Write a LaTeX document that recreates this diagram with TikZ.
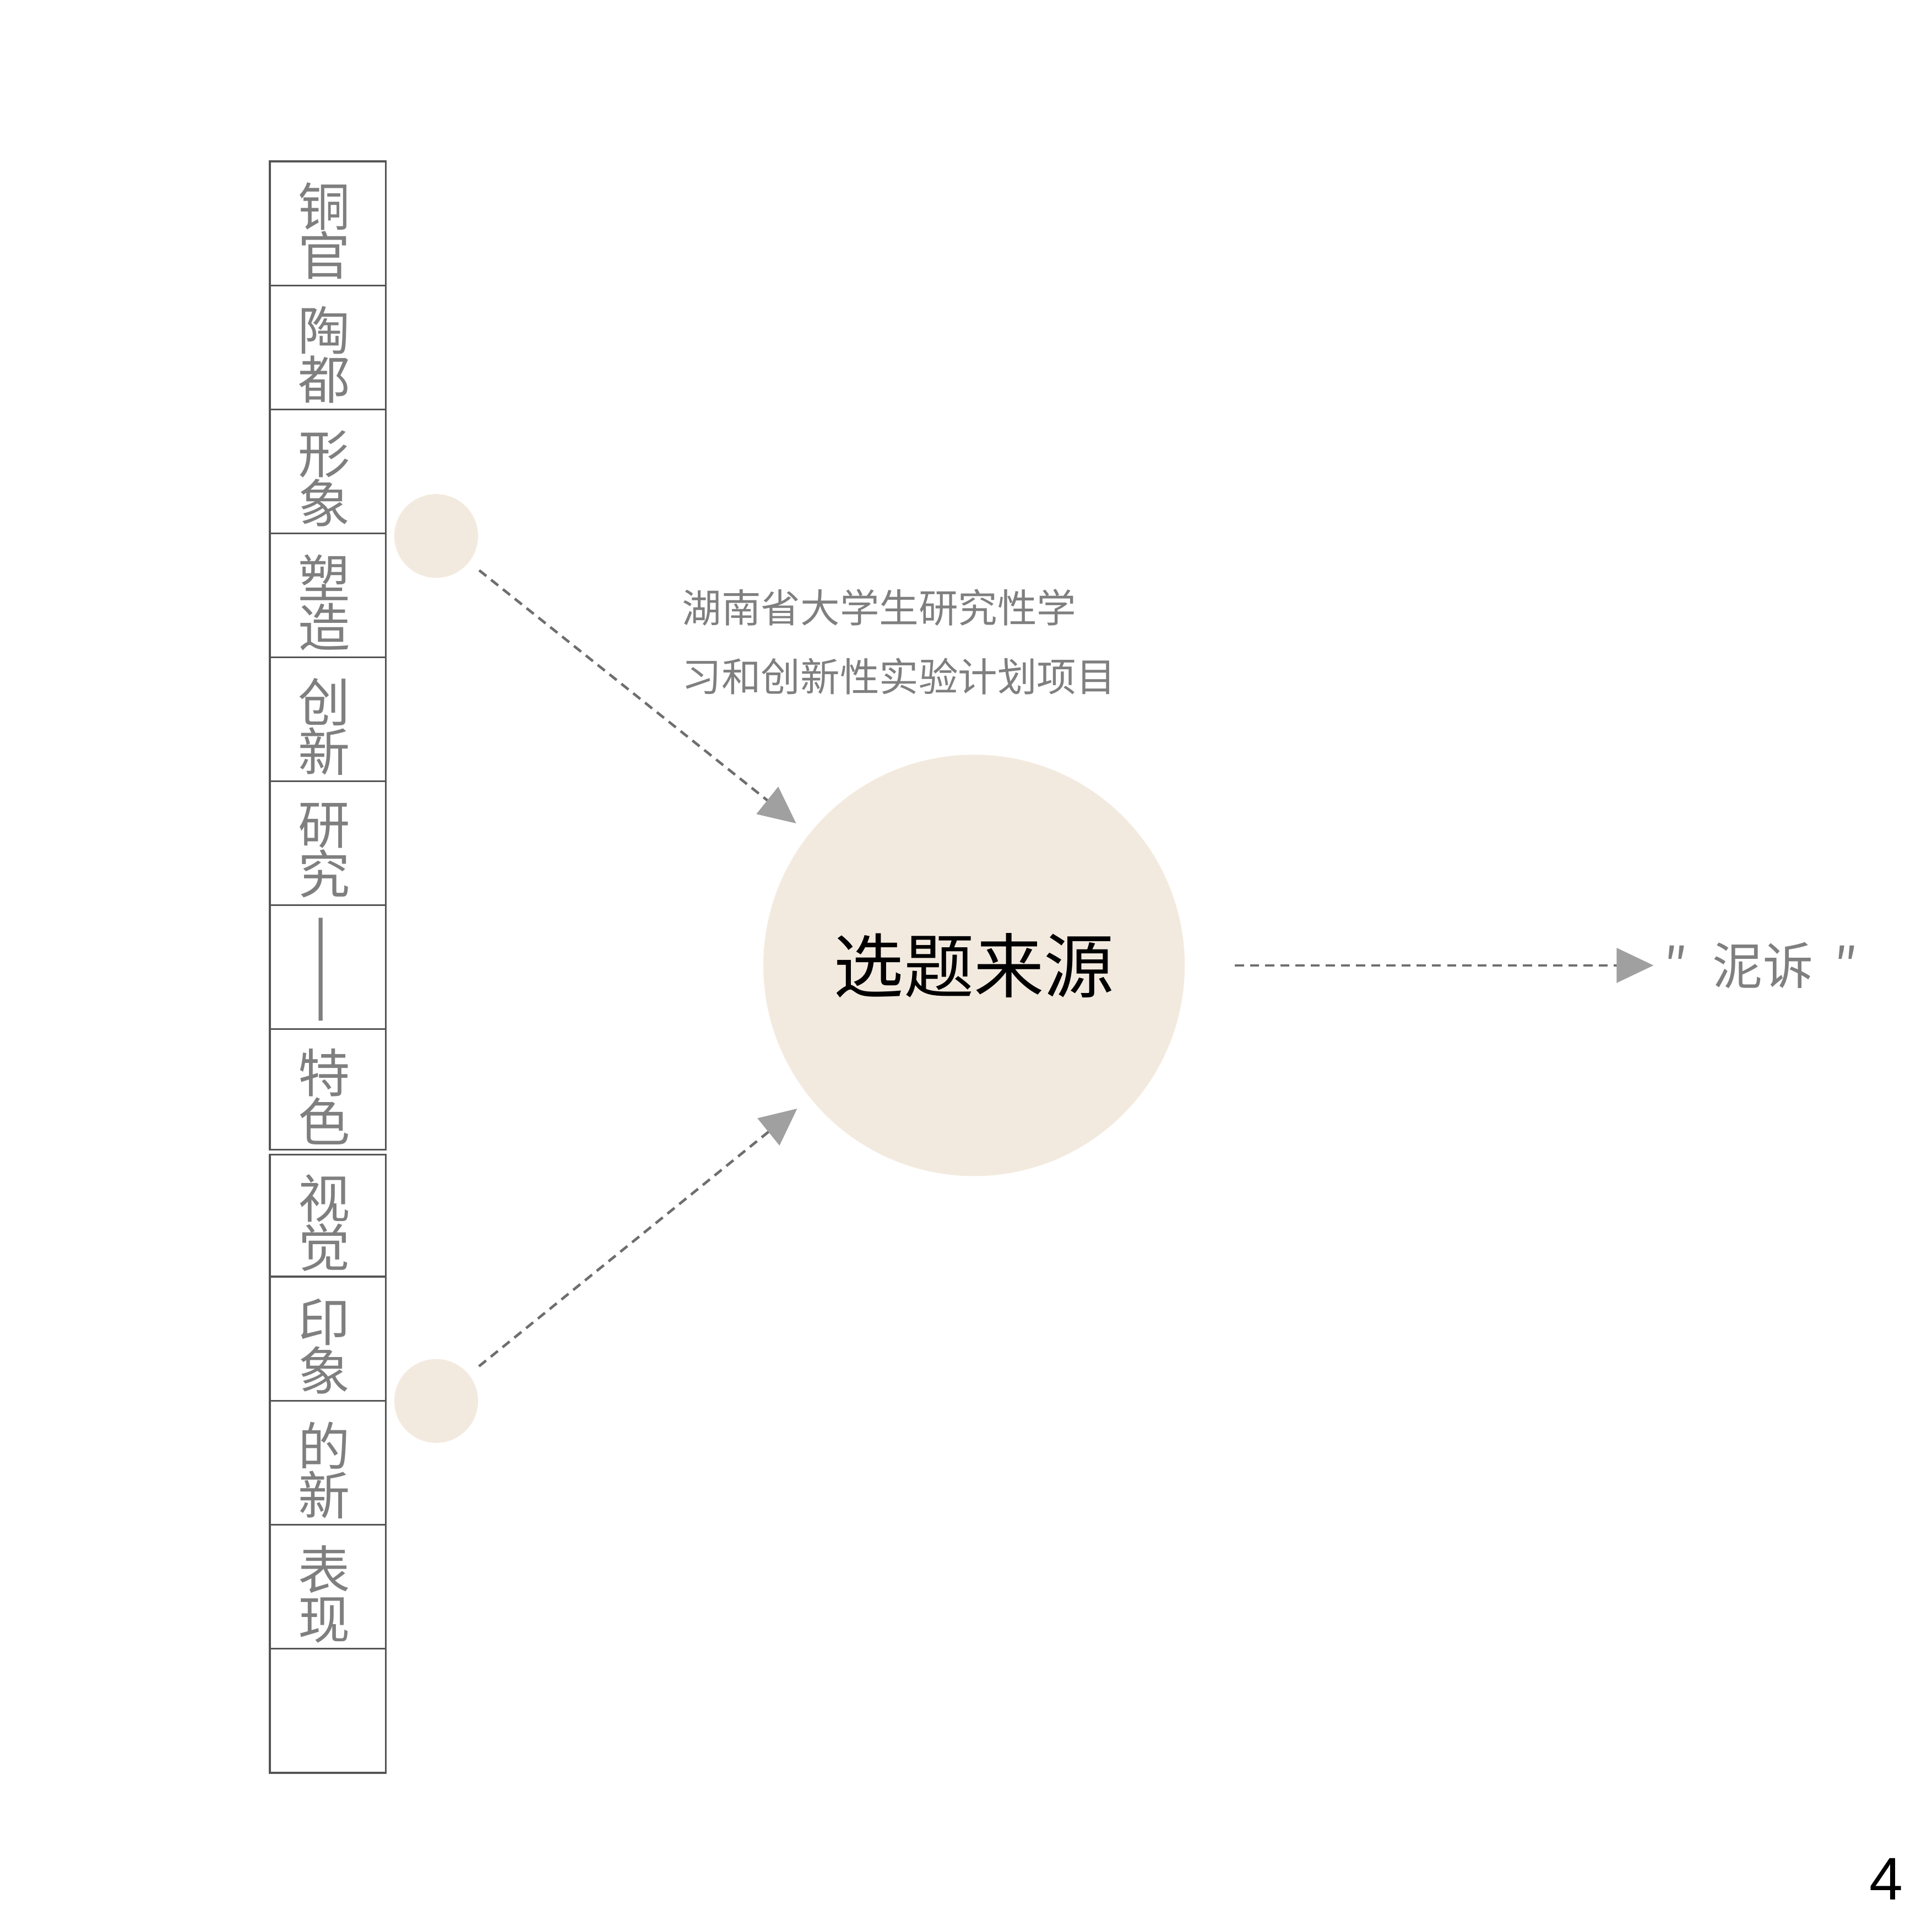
\documentclass[tikz,border=0pt]{standalone}
\usepackage{fontspec}
\setmainfont{Liberation Sans}
\newfontfamily\cjk{Noto Sans CJK SC}
\usetikzlibrary{arrows.meta}

\definecolor{sand}{HTML}{F3EADF}
\definecolor{txtgray}{HTML}{7F7F7F}
\definecolor{linegray}{HTML}{6E6E6E}
\definecolor{headgray}{HTML}{A0A0A0}
\definecolor{boxgray}{HTML}{555555}

\begin{document}
\begin{tikzpicture}[
	cell/.style={draw=boxgray, line width=0.4pt, minimum width=0.94cm, minimum height=1.006cm, inner sep=0pt},
	word/.style={inner sep=0pt, text=txtgray, align=center, font=\cjk\fontsize{12}{11.4}\selectfont},
	dot/.style={circle, fill=sand, minimum size=0.68cm, inner sep=0pt},
	link/.style={dash pattern=on 2.1pt off 1.4pt, draw=linegray, line width=0.6pt, -{Triangle[length=0.3cm, width=0.28cm, color=headgray]}}
	]
	\useasboundingbox (0,0) rectangle (15.68,-15.68);

	% left column
	\node[cell] (c1) at (2.66,-1.813) {};
	\node[cell] (c2) at (2.66,-2.819) {};
	\node[cell] (c3) at (2.66,-3.825) {};
	\node[cell] (c4) at (2.66,-4.831) {};
	\node[cell] (c5) at (2.66,-5.837) {};
	\node[cell] (c6) at (2.66,-6.843) {};
	\node[cell] (c7) at (2.66,-7.849) {};
	\node[cell, minimum height=0.98cm] (c8) at (2.66,-8.84) {};
	\node[cell, minimum height=0.99cm] (c9) at (2.66,-9.865) {};
	\node[cell] (c10) at (2.66,-10.867) {};
	\node[cell] (c11) at (2.66,-11.873) {};
	\node[cell] (c12) at (2.66,-12.879) {};
	\node[cell] (c13) at (2.66,-13.885) {};

	\node[word] (w1) at ([xshift=-0.03cm, yshift=-0.06cm]c1.center) {铜\\官};
	\node[word] (w2) at ([xshift=-0.03cm, yshift=-0.06cm]c2.center) {陶\\都};
	\node[word] (w3) at ([xshift=-0.03cm, yshift=-0.06cm]c3.center) {形\\象};
	\node[word] (w4) at ([xshift=-0.03cm, yshift=-0.06cm]c4.center) {塑\\造};
	\node[word] (w5) at ([xshift=-0.03cm, yshift=-0.06cm]c5.center) {创\\新};
	\node[word] (w6) at ([xshift=-0.03cm, yshift=-0.06cm]c6.center) {研\\究};
	\node[word, rotate=-90, font=\cjk\fontsize{15}{15}\selectfont] (w7) at ([xshift=-0.12cm, yshift=-0.02cm]c7.center) {——};
	\node[word] (w8) at ([xshift=-0.03cm, yshift=-0.06cm]c8.center) {特\\色};
	\node[word] (w9) at ([xshift=-0.03cm, yshift=-0.06cm]c9.center) {视\\觉};
	\node[word] (w10) at ([xshift=-0.03cm, yshift=-0.06cm]c10.center) {印\\象};
	\node[word] (w11) at ([xshift=-0.03cm, yshift=-0.06cm]c11.center) {的\\新};
	\node[word] (w12) at ([xshift=-0.03cm, yshift=-0.06cm]c12.center) {表\\现};

	% circles
	\node[dot] (s1) at (3.54,-4.35) {};
	\node[dot] (s2) at (3.54,-11.37) {};
	\node[circle, fill=sand, minimum size=3.42cm, inner sep=0pt, font=\cjk\fontsize{16.2}{16.2}\selectfont] (topic) at (7.905,-7.835) {选题来源};

	\node[anchor=west, inner sep=0pt, text=txtgray, align=left, font=\cjk\fontsize{9.1}{15.9}\selectfont] (grant) at (5.53,-5.21) {湖南省大学生研究性学\\习和创新性实验计划项目};
	\node[anchor=west, inner sep=0pt, text=txtgray, font=\cjk\fontsize{11.6}{11.6}\selectfont] (nisu) at (13.50,-7.835) {″\hspace{0.2cm}泥诉\hspace{0.17cm}″};

	\draw[link, shorten <=0.10cm, shorten >=0.13cm] (s1) -- (topic);
	\draw[link, shorten <=0.10cm, shorten >=0.13cm] (s2) -- (topic);
	\draw[link, shorten <=0.40cm, shorten >=0.08cm] (topic) -- (nisu.west);

	\node[font=\fontsize{13.9}{13.9}\selectfont] (page) at (15.31,-15.25) {4};
\end{tikzpicture}
\end{document}
